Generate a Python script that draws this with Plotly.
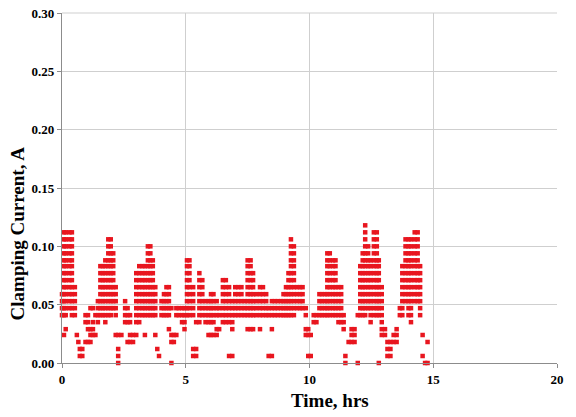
import plotly.graph_objects as go

# Sample times (hrs) of each column of readings, and the clamping currents (A) read at that time
col_time_hrs = [
    0.00, 0.08, 0.15, 0.30, 0.40, 0.52, 0.60, 0.66, 0.72, 0.82,
    0.95, 1.05, 1.15, 1.25, 1.35, 1.45, 1.55, 1.65, 1.75, 1.87,
    1.97, 2.07, 2.17, 2.27, 2.40, 2.55, 2.65, 2.75, 2.87, 3.00,
    3.12, 3.25, 3.35, 3.47, 3.57, 3.67, 3.77, 3.85, 3.92, 4.02,
    4.12, 4.22, 4.32, 4.42, 4.52, 4.62, 4.72, 4.85, 4.95, 5.05,
    5.15, 5.30, 5.42, 5.55, 5.67, 5.80, 5.92, 6.02, 6.12, 6.25,
    6.35, 6.50, 6.62, 6.75, 6.88, 7.00, 7.12, 7.25, 7.38, 7.50,
    7.62, 7.72, 7.85, 8.00, 8.12, 8.25, 8.35, 8.48, 8.60, 8.72,
    8.85, 8.95, 9.05, 9.15, 9.25, 9.37, 9.50, 9.62, 9.72, 9.85,
    9.95, 10.05, 10.17, 10.28, 10.40, 10.50, 10.62, 10.72, 10.82, 10.95,
    11.05, 11.17, 11.28, 11.38, 11.45, 11.58, 11.70, 11.82, 11.95, 12.05,
    12.15, 12.25, 12.37, 12.47, 12.60, 12.72, 12.80, 12.92, 13.05, 13.15,
    13.27, 13.40, 13.52, 13.65, 13.75, 13.88, 14.00, 14.10, 14.25, 14.37,
    14.47, 14.57, 14.67, 14.77,
]

col_current_a = [
    [0.041, 0.047, 0.053, 0.059],
    [0.024, 0.041, 0.047, 0.053, 0.059, 0.065, 0.071, 0.077, 0.083, 0.088, 0.094, 0.100, 0.106, 0.112],
    [0.029, 0.041, 0.047, 0.053, 0.059, 0.065, 0.071, 0.077, 0.083, 0.088, 0.094, 0.100, 0.106, 0.112],
    [0.047, 0.053, 0.059, 0.065, 0.071, 0.077, 0.083, 0.088, 0.094, 0.100, 0.106, 0.112],
    [0.041, 0.047, 0.053, 0.059, 0.065, 0.071, 0.077, 0.083, 0.088, 0.094, 0.100, 0.106, 0.112],
    [0.041, 0.047, 0.053, 0.059, 0.065],
    [0.024],
    [0.018],
    [0.006, 0.012],
    [0.006, 0.012],
    [0.018, 0.035, 0.041],
    [0.018, 0.029, 0.035, 0.041],
    [0.018, 0.024, 0.029, 0.047],
    [0.024, 0.029, 0.035, 0.047],
    [0.024, 0.041],
    [0.035, 0.041, 0.047, 0.053],
    [0.041, 0.047, 0.053, 0.059, 0.065, 0.071, 0.077, 0.083],
    [0.041, 0.047, 0.053, 0.059, 0.065, 0.071, 0.077, 0.083],
    [0.035, 0.041, 0.047, 0.053, 0.059, 0.065, 0.071, 0.077, 0.083, 0.088],
    [0.041, 0.047, 0.053, 0.059, 0.065, 0.071, 0.077, 0.083, 0.088, 0.094, 0.100, 0.106],
    [0.041, 0.047, 0.053, 0.059, 0.065, 0.071, 0.077, 0.083, 0.088, 0.094, 0.100, 0.106],
    [0.047, 0.053, 0.059, 0.065, 0.071, 0.077, 0.083, 0.088, 0.094],
    [0.024, 0.041, 0.047, 0.053, 0.059, 0.065],
    [0.000, 0.006, 0.012, 0.024],
    [0.024],
    [0.035, 0.041, 0.047, 0.053],
    [0.018, 0.035, 0.041, 0.047],
    [0.018, 0.024, 0.035, 0.041],
    [0.018, 0.024],
    [0.024, 0.035, 0.041, 0.047, 0.053, 0.059, 0.065, 0.071, 0.077],
    [0.035, 0.041, 0.047, 0.053, 0.059, 0.065, 0.071, 0.077, 0.083],
    [0.041, 0.047, 0.053, 0.059, 0.065, 0.071, 0.077, 0.083],
    [0.024, 0.041, 0.047, 0.053, 0.059, 0.065, 0.071, 0.077, 0.083],
    [0.041, 0.047, 0.053, 0.059, 0.065, 0.071, 0.077, 0.083, 0.088, 0.094, 0.100],
    [0.041, 0.047, 0.053, 0.059, 0.065, 0.071, 0.077, 0.083, 0.088, 0.094, 0.100],
    [0.041, 0.047, 0.053, 0.059, 0.065, 0.071, 0.077, 0.083, 0.088],
    [0.024, 0.041, 0.047, 0.053, 0.059, 0.065],
    [0.012],
    [0.006],
    [0.041, 0.047, 0.053],
    [0.041, 0.047, 0.053, 0.059],
    [0.041, 0.047, 0.053, 0.059, 0.065],
    [0.029, 0.041, 0.047, 0.053, 0.059, 0.065],
    [0.000, 0.018, 0.024, 0.047],
    [0.018, 0.024],
    [0.024, 0.041, 0.047],
    [0.041, 0.047],
    [0.035, 0.041, 0.047],
    [0.029, 0.035, 0.041, 0.047],
    [0.041, 0.047, 0.053, 0.059, 0.065, 0.071, 0.077, 0.083, 0.088],
    [0.041, 0.047, 0.053, 0.059, 0.065, 0.071, 0.077, 0.083, 0.088],
    [0.006, 0.012, 0.041, 0.047, 0.053, 0.059, 0.065],
    [0.006, 0.012, 0.035],
    [0.035, 0.041, 0.047, 0.053, 0.059, 0.065, 0.071, 0.077],
    [0.041, 0.047, 0.053, 0.059, 0.065, 0.071],
    [0.035, 0.041, 0.047, 0.053],
    [0.024, 0.035, 0.041, 0.047, 0.053],
    [0.024, 0.035, 0.041, 0.047, 0.053, 0.059],
    [0.024, 0.035, 0.041, 0.047, 0.053, 0.059],
    [0.024, 0.029, 0.041, 0.047, 0.053],
    [0.029, 0.041, 0.047],
    [0.035, 0.041, 0.047, 0.053, 0.059, 0.065, 0.071],
    [0.035, 0.041, 0.047, 0.053, 0.059, 0.065, 0.071],
    [0.006, 0.035, 0.041, 0.047, 0.053, 0.059, 0.065],
    [0.006, 0.029, 0.035, 0.041, 0.047, 0.053],
    [0.041, 0.047, 0.053, 0.059, 0.065],
    [0.041, 0.047, 0.053, 0.059, 0.065],
    [0.041, 0.047, 0.053, 0.059, 0.065],
    [0.041, 0.047, 0.053],
    [0.029, 0.041, 0.047, 0.053, 0.059, 0.065, 0.071, 0.077, 0.083, 0.088],
    [0.029, 0.041, 0.047, 0.053, 0.059, 0.065, 0.071, 0.077, 0.083, 0.088],
    [0.029, 0.041, 0.047, 0.053, 0.059, 0.065, 0.071, 0.077],
    [0.041, 0.047, 0.053, 0.059],
    [0.029, 0.041, 0.047, 0.053, 0.059, 0.065],
    [0.041, 0.047, 0.053, 0.059, 0.065],
    [0.041, 0.047, 0.053, 0.059],
    [0.006, 0.041, 0.047],
    [0.006, 0.029, 0.041, 0.047, 0.053],
    [0.041, 0.047, 0.053],
    [0.041, 0.047, 0.053],
    [0.041, 0.047, 0.053],
    [0.041, 0.047, 0.053, 0.059],
    [0.041, 0.047, 0.053, 0.059, 0.065],
    [0.041, 0.047, 0.053, 0.059, 0.065, 0.071, 0.077],
    [0.041, 0.047, 0.053, 0.059, 0.065, 0.071, 0.077, 0.083, 0.088, 0.094, 0.100, 0.106],
    [0.041, 0.047, 0.053, 0.059, 0.065, 0.071, 0.077, 0.083, 0.088, 0.094, 0.100],
    [0.047, 0.053, 0.059, 0.065],
    [0.047, 0.053, 0.059, 0.065],
    [0.047, 0.053, 0.059, 0.065],
    [0.024, 0.029, 0.041, 0.047],
    [0.006, 0.024, 0.029],
    [0.006, 0.024],
    [0.035, 0.041],
    [0.035, 0.041],
    [0.041, 0.047, 0.053, 0.059],
    [0.041, 0.047, 0.053, 0.059],
    [0.041, 0.047, 0.053, 0.059],
    [0.041, 0.047, 0.053, 0.059, 0.065, 0.071, 0.077, 0.083, 0.088, 0.094],
    [0.041, 0.047, 0.053, 0.059, 0.065, 0.071, 0.077, 0.083, 0.088, 0.094],
    [0.041, 0.047, 0.053, 0.059, 0.065, 0.071, 0.077, 0.083, 0.088],
    [0.041, 0.047, 0.053, 0.059, 0.065, 0.071, 0.077, 0.083, 0.088],
    [0.035, 0.041, 0.047, 0.053, 0.059, 0.065],
    [0.035, 0.041, 0.047, 0.053, 0.059, 0.065],
    [0.029, 0.035, 0.041],
    [0.000, 0.006],
    [0.018],
    [0.018, 0.024, 0.029],
    [0.018, 0.024, 0.029],
    [0.000, 0.041],
    [0.041, 0.047, 0.053, 0.059, 0.065, 0.071, 0.077, 0.083],
    [0.041, 0.047, 0.053, 0.059, 0.065, 0.071, 0.077, 0.083, 0.088, 0.094],
    [0.041, 0.047, 0.053, 0.059, 0.065, 0.071, 0.077, 0.083, 0.088, 0.094, 0.100, 0.106, 0.112, 0.118],
    [0.047, 0.053, 0.059, 0.065, 0.071, 0.077, 0.083, 0.088, 0.094, 0.100],
    [0.035, 0.041, 0.047, 0.053, 0.059, 0.065, 0.071, 0.077, 0.083, 0.088],
    [0.041, 0.047, 0.053, 0.059, 0.065, 0.071, 0.077, 0.083, 0.088, 0.094, 0.100, 0.106, 0.112],
    [0.041, 0.047, 0.053, 0.059, 0.065, 0.071, 0.077, 0.083, 0.088, 0.094, 0.100, 0.106, 0.112],
    [0.000, 0.041, 0.047, 0.053, 0.059, 0.065, 0.071, 0.077, 0.083, 0.088],
    [0.024, 0.029, 0.035, 0.041, 0.047, 0.053, 0.059, 0.065],
    [0.024, 0.029],
    [0.006, 0.012, 0.018],
    [0.006, 0.012, 0.018],
    [0.018, 0.024],
    [0.018, 0.024, 0.029],
    [0.041, 0.047],
    [0.041, 0.047, 0.053, 0.059, 0.065, 0.071, 0.077, 0.083],
    [0.053, 0.059, 0.065, 0.071, 0.077, 0.083, 0.088, 0.094, 0.100, 0.106],
    [0.041, 0.047, 0.053, 0.059, 0.065, 0.071, 0.077, 0.083, 0.088, 0.094, 0.100, 0.106],
    [0.035, 0.041, 0.047, 0.053, 0.059, 0.065, 0.071, 0.077, 0.083, 0.088, 0.094, 0.100, 0.106],
    [0.053, 0.059, 0.065, 0.071, 0.077, 0.083, 0.088, 0.094, 0.100, 0.106, 0.112],
    [0.053, 0.059, 0.065, 0.071, 0.077, 0.083, 0.088, 0.094, 0.100, 0.106, 0.112],
    [0.041, 0.047, 0.053, 0.059, 0.065, 0.071, 0.077, 0.083],
    [0.006, 0.024],
    [0.000],
    [0.000, 0.018],
]

x_tick_vals = [0, 5, 10, 15, 20]
y_tick_vals = [0.00, 0.05, 0.10, 0.15, 0.20, 0.25, 0.30]

time_hrs = []
current_a = []
for t, vals in zip(col_time_hrs, col_current_a):
    for v in vals:
        time_hrs.append(t)
        current_a.append(v)

font_family = "Liberation Serif, Times New Roman, serif"

fig = go.Figure()
fig.add_trace(go.Scatter(
    x=time_hrs, y=current_a, mode="markers",
    marker=dict(symbol="square", size=4.5, color="#e8161f", line=dict(width=0)),
    cliponaxis=False, showlegend=False, hoverinfo="skip",
))

axis_common = dict(
    automargin=False,
    showgrid=True, gridcolor="#cfcfcf", gridwidth=1,
    showline=True, linecolor="#8c8c8c", linewidth=1.2,
    ticks="outside", ticklen=4, tickcolor="#8c8c8c",
    zeroline=False,
    ticklabeloverflow="allow",
    tickfont=dict(family=font_family, size=13, color="black", weight="bold"),
)

fig.update_xaxes(range=[0, 20], tickvals=x_tick_vals, **axis_common)
fig.update_yaxes(range=[0, 0.30], tickvals=y_tick_vals, tickformat=".2f", **axis_common)

fig.update_layout(
    template="none",
    width=576, height=417,
    margin=dict(l=62, r=19, t=13, b=54, autoexpand=False),
    paper_bgcolor="white", plot_bgcolor="white",
    shapes=[
        dict(type="line", xref="paper", yref="paper", x0=0, x1=1, y0=1, y1=1,
             line=dict(color="#cfcfcf", width=1), layer="below"),
    ],
    annotations=[
        dict(text="Time, hrs", xref="paper", yref="paper", x=0.541, y=-0.106,
             xanchor="center", yanchor="middle", showarrow=False,
             font=dict(family=font_family, size=19, color="black", weight="bold")),
        dict(text="Clamping Current, A", xref="paper", yref="paper", x=-0.089, y=0.37,
             xanchor="center", yanchor="middle", textangle=-90, showarrow=False,
             font=dict(family=font_family, size=19, color="black", weight="bold")),
    ],
)

# Remove the browser's default 8px page margin so the figure fills the window exactly.
fig.write_html("out.html", config={"displayModeBar": False},
               post_script="document.body.style.margin='0';")
